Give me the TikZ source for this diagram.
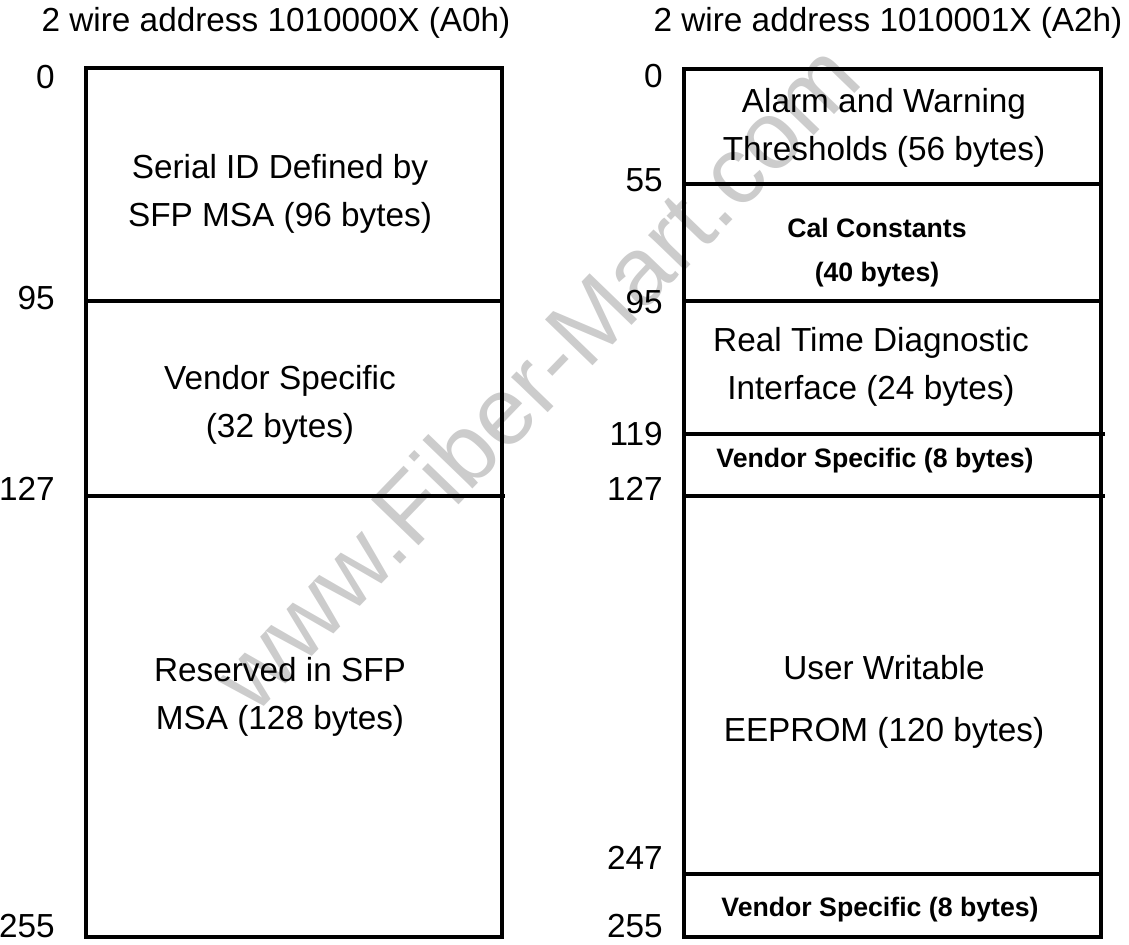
\documentclass[tikz,border=0pt]{standalone}
\usepackage{fontspec}
\setmainfont{Liberation Sans}
\usetikzlibrary{positioning}

\begin{document}
\begin{tikzpicture}[x=0.75pt,y=-0.75pt]
  \tikzset{
    txt/.style={font=\fontsize{25}{36}\selectfont, inner sep=0pt, align=center},
    btxt/.style={font=\fontsize{20}{33}\selectfont\bfseries, inner sep=0pt, align=center},
    addr/.style={font=\fontsize{25}{30}\selectfont, inner sep=0pt, anchor=east},
    wall/.style={line width=2.7pt}
  }
  \useasboundingbox (0,0) rectangle (1129,945);
  % watermark
  \node[rotate=46, text=black!20, font=\fontsize{72}{80}\selectfont] (mark) at (535,376) {www.Fiber-Mart.com};
  % A0h
  \node[txt] (titleA) at (276,23) {2 wire address 1010000X (A0h)};
  \draw[wall] (86,68) rectangle (502,937);
  \draw[wall] (86,301) -- (502,301);
  \draw[wall] (88,496) -- (505,496);
  \node[txt] (serial) at (280,194) {Serial ID Defined by\\SFP MSA (96 bytes)};
  \node[txt] (vendA) at (280,405) {Vendor Specific\\(32 bytes)};
  \node[txt] (resv) at (280,697) {Reserved in SFP\\MSA (128 bytes)};
  \foreach \v/\y in {0/77, 95/298, 127/489, 255/926}
    \node[addr] (la\v) at (55,\y) {\v};
  % A2h
  \node[txt] (titleB) at (888,23) {2 wire address 1010001X (A2h)};
  \draw[wall] (684,69) rectangle (1101,937);
  \draw[wall] (684,184) -- (1101,184);
  \draw[wall] (684,301) -- (1101,301);
  \draw[wall] (686,434) -- (1105,434);
  \draw[wall] (686,496) -- (1105,496);
  \draw[wall] (684,874) -- (1101,874);
  \node[txt] (alarm) at (884,128) {Alarm and Warning\\Thresholds (56 bytes)};
  \node[btxt] (cal) at (877,253) {Cal Constants\\(40 bytes)};
  \node[txt] (diag) at (871,367) {Real Time Diagnostic\\Interface (24 bytes)};
  \node[btxt] (vendB) at (875,461) {Vendor Specific (8 bytes)};
  \node[txt] (user) at (884,702) {User Writable\\[10pt]EEPROM (120 bytes)};
  \node[btxt] (vendC) at (880,910) {Vendor Specific (8 bytes)};
  \foreach \v/\y in {0/76, 55/180, 95/302, 119/434, 127/489, 247/858, 255/926}
    \node[addr] (lb\v) at (663,\y) {\v};
\end{tikzpicture}
\end{document}
